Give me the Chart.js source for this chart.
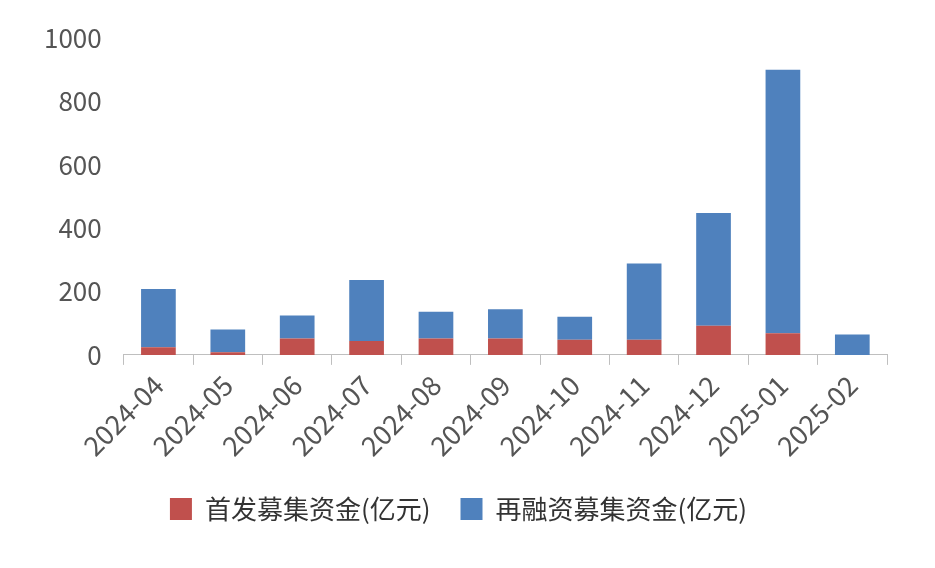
<!DOCTYPE html>
<html><head><meta charset="utf-8">
<script src="https://cdn.jsdelivr.net/npm/chart.js@4/dist/chart.umd.min.js"></script>
<style>html,body{margin:0;background:#fff}#w{width:935px;height:568px}</style>
</head><body><div id="w"><canvas id="c"></canvas></div>
<script>
const categories=["2024-04","2024-05","2024-06","2024-07","2024-08","2024-09","2024-10","2024-11","2024-12","2025-01","2025-02"];
const ipoValues=[24,8,52,44,52,52,48,48,92,68,0];
const refiValues=[184,72,72,192,84,92,72,240,356,832,64];
const seriesNames=["首发募集资金(亿元)","再融资募集资金(亿元)"];
const yTicks=[0,200,400,600,800,1000];
const F='"Noto Sans CJK SC","DejaVu Sans",sans-serif';
new Chart(document.getElementById('c'),{type:'bar',
data:{labels:categories,datasets:[
{label:seriesNames[0],data:ipoValues,backgroundColor:'#C0504D',barPercentage:0.5,categoryPercentage:1},
{label:seriesNames[1],data:refiValues,backgroundColor:'#4F81BD',barPercentage:0.5,categoryPercentage:1}]},
options:{responsive:true,maintainAspectRatio:false,animation:false,
layout:{padding:{left:30,right:48,top:38,bottom:36}},
plugins:{legend:{position:'bottom',labels:{font:{family:F,size:26},color:'#333',boxWidth:22,boxHeight:22,padding:30}},tooltip:{enabled:false}},
scales:{x:{stacked:true,grid:{display:true,drawOnChartArea:false,color:'#bfbfbf',tickLength:10,offset:true},border:{color:'#bfbfbf'},
ticks:{font:{family:F,size:27},color:'#555',maxRotation:45,minRotation:45,padding:4}},
y:{stacked:true,min:0,max:1000,afterBuildTicks:a=>{a.ticks=yTicks.map(v=>({value:v}))},grid:{display:false},border:{display:false},
ticks:{font:{family:F,size:26},color:'#555',padding:14,callback:v=>String(v)}}}}});
</script></body></html>
